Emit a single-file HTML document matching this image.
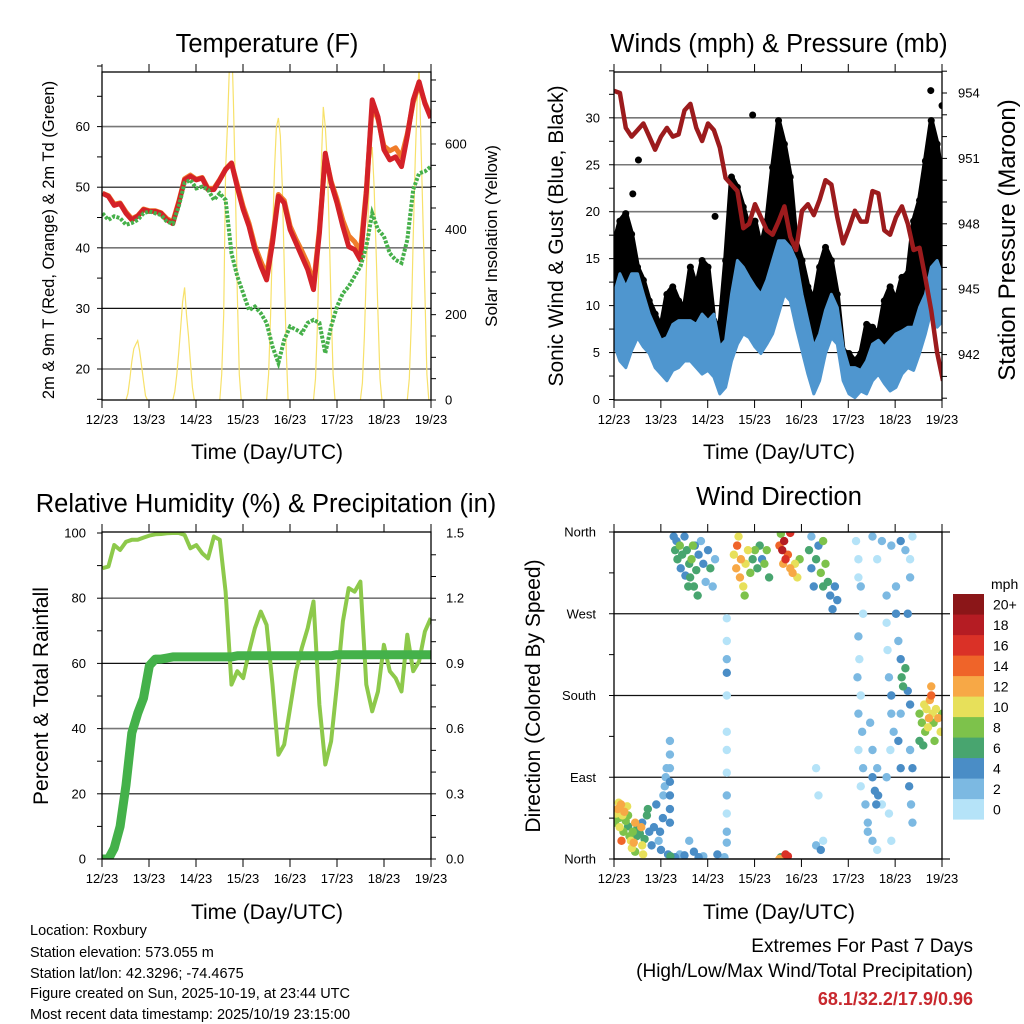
<!DOCTYPE html>
<html><head><meta charset="utf-8">
<style>
html,body{margin:0;padding:0;background:#fff;}
svg{display:block;font-family:"Liberation Sans",sans-serif;}
</style></head>
<body>
<svg id="c" width="1024" height="1024" viewBox="0 0 1024 1024" xmlns="http://www.w3.org/2000/svg">
<defs>
<clipPath id="cp1"><rect x="102" y="72" width="329" height="328"/></clipPath>
<clipPath id="cp2"><rect x="614" y="72" width="328" height="328"/></clipPath>
<clipPath id="cp3"><rect x="102" y="532" width="329" height="327"/></clipPath>
<clipPath id="cp4"><rect x="614" y="532" width="328" height="327"/></clipPath>
</defs>
<g font-size="25.5" text-anchor="middle" fill="#000">
<text x="267" y="52">Temperature (F)</text>
<text x="779" y="52">Winds (mph) &amp; Pressure (mb)</text>
<text x="266" y="512">Relative Humidity (%) &amp; Precipitation (in)</text>
<text x="779" y="505">Wind Direction</text>
</g>
<g font-size="21" text-anchor="middle">
<text x="267" y="459">Time (Day/UTC)</text>
<text x="779" y="459">Time (Day/UTC)</text>
<text x="267" y="919">Time (Day/UTC)</text>
<text x="779" y="919">Time (Day/UTC)</text>
<text transform="translate(54,240) rotate(-90)" font-size="16.5">2m &amp; 9m T (Red, Orange) &amp; 2m Td (Green)</text>
<text transform="translate(497,236) rotate(-90)" font-size="17">Solar Insolation (Yellow)</text>
<text transform="translate(563,236) rotate(-90)" font-size="21">Sonic Wind &amp; Gust (Blue, Black)</text>
<text transform="translate(1015,240) rotate(-90)" font-size="24">Station Pressure (Maroon)</text>
<text transform="translate(48,696) rotate(-90)" font-size="21">Percent &amp; Total Rainfall</text>
<text transform="translate(540,696) rotate(-90)" font-size="21">Direction (Colored By Speed)</text>
</g>
<g font-size="14.5">
<text x="30" y="935">Location: Roxbury</text>
<text x="30" y="957">Station elevation: 573.055 m</text>
<text x="30" y="978">Station lat/lon: 42.3296; -74.4675</text>
<text x="30" y="998">Figure created on Sun, 2025-10-19, at 23:44 UTC</text>
<text x="30" y="1019">Most recent data timestamp: 2025/10/19 23:15:00</text>
</g>
<g font-size="19" text-anchor="end">
<text x="973" y="952">Extremes For Past 7 Days</text>
<text x="973" y="977">(High/Low/Max Wind/Total Precipitation)</text>
<text x="973" y="1005" fill="#c8282e" font-weight="bold" font-size="18">68.1/32.2/17.9/0.96</text>
</g>
<g id="g"></g>
</svg>
<script>
// ---------- data ----------
const dayLabels = ["12/23","13/23","14/23","15/23","16/23","17/23","18/23","19/23"];
const tempTicks = [20,30,40,50,60];
const solarTicks = [0,200,400,600];
const windTicks = [0,5,10,15,20,25,30];
const pressTicks = [942,945,948,951,954];
const rhTicks = [0,20,40,60,80,100];
const precipTicks = ["0.0","0.3","0.6","0.9","1.2","1.5"];
const dirLabels = ["North","East","South","West","North"];
const speedBins = ["0","2","4","6","8","10","12","14","16","18","20+"];
// 3-hourly series from day 0 (12/23 00Z) to day 7
const tempRed = [49,48.5,47,47.3,45.7,44.6,45.2,46.3,46,46,45.7,44.6,44,47.4,51.2,51.8,51.2,51.5,49.6,49.6,51.2,52.9,54,50,46.3,43.5,39.7,37,34.7,40.8,48.5,47.4,43,40.8,38.6,36.4,33.1,42.4,55.6,50.7,47.4,43.5,40.2,39.7,38,49,64.4,61.6,56.2,54.5,55,53.4,58.4,64.4,67.4,63.8,61.4];
const tempOrange = [49,48.6,47.2,47.4,45.9,44.8,45.3,46.4,46.1,46.1,45.8,44.8,44.3,47.6,51.4,52,51.3,51.6,49.8,49.8,51.3,53,54,50.4,46.8,44,40.3,37.8,35.5,41.6,48.8,47.8,43.6,41.4,39.5,37.4,34,43,55.3,51,48,44.5,42,41,39.4,49.5,63.5,61.2,56.8,56,56.5,55,58.8,64,67,64,61.6];
const dewGreen = [45.7,44.6,45.2,44.9,43.8,44.1,44.6,45.7,46,45.7,45.4,44.3,44,46.8,50.7,51.2,49.8,50.1,49.6,47.9,49,47.9,39.1,35.3,32.5,29.7,30.3,29.2,27.6,23.7,21,24.8,27,26.5,25.9,27.6,28.1,27.6,22.6,27,30.3,32.5,33.6,35.3,36.9,40.2,45.7,43,41.9,39.1,38,37.5,41.3,49.6,52.3,52.6,53.4];
const solarHours = [12,13,14,15,16,17,18,19,20,21,22,23];
const solarDay0 = [0,15,50,90,120,130,139,115,80,45,10,0];
const solarDay1 = [0,20,60,110,170,230,264,200,150,90,30,0];
const solarDay2 = [0,60,200,540,650,790,860,700,500,250,60,0];
const solarDay3 = [0,60,200,380,540,640,661,620,500,320,120,0];
const solarDay4 = [0,50,180,380,560,687,640,560,400,220,60,0];
const solarDay5 = [0,40,150,300,450,560,593,500,350,200,50,0];
const solarDay6 = [0,50,180,380,560,700,780,600,420,250,60,0];
const pressure = [954.1,954,952.4,952,952.3,952.6,952,951.4,952,952.4,952,952.1,953.2,953.5,952.4,951.8,952.6,952.3,951.5,950.1,949.8,949.5,947.8,948,948.9,948.3,947.7,947.5,948.1,948.8,947.4,946.8,948.6,948.9,948.4,949.1,950,949.8,948.3,947.1,947.8,948.6,948.1,948.1,949.5,949.4,947.7,947.5,948.3,948.8,948,946.8,946.9,945.5,944,942.1,940.8];
const windLo = [5.9,4.1,3.4,5.2,6.6,5.6,4.9,3.4,2.7,2,3.1,3.4,4.1,4.1,3.4,2.7,3.1,2.4,0.6,1.3,4.1,5.9,7,6.6,5.6,4.9,5.9,7,9.1,11.2,10.5,7.7,5.2,2.7,0.6,2,4.9,6.6,5.9,2,0.6,0.2,0.9,0.6,2,2.7,1.7,0.9,1.3,2.7,3.4,3.1,4.9,7,9.5,7.7,8.4];
const windHi = [11.2,13.4,12,13.4,13.4,11.2,9.1,7.7,6.3,6.6,8,8.4,8.4,8.4,8,9.1,8.4,9.1,5.6,6.3,11.2,14.8,14.1,13,12,11.2,12.7,14.8,16.9,16.9,16.2,14.8,11.2,8.4,5.6,7,9.5,11.2,9.8,5.6,3.4,3.4,3.1,4.1,5.9,6.3,5.6,6.3,7,7.3,7.7,7.7,9.8,11.2,14.1,14.8,13];
const gustHi = [16.6,19,19.8,17.6,14.1,12.7,10.5,9.1,7.7,11.2,12,10.5,9.8,14.1,12,14.8,14.1,8.4,7.7,14.8,23.7,22.6,20.5,18.3,19,16.2,19,24.7,29.7,27.2,23.7,16.9,14.8,12,10.5,14.1,16.2,14.8,11.2,5.2,4.9,4.1,4.9,8,7.7,7,10.5,12,10.5,13,13.4,19,21.2,25.4,29.7,27.2,22.6];
const gustOutlierDays = [0.52,2.95,6.74,6.98,0.4,2.15];
const gustOutlierVals = [25.5,30.3,32.9,31.3,21.9,19.5];
const rh = [89.2,89.7,96.3,94.8,97.3,97.9,97.9,98.6,99.2,99.6,99.7,99.9,100,100,99.4,95.3,96.3,93.8,92.2,98.9,97.9,82,53.5,57.6,55.5,63.7,70.8,75.9,71.8,53.5,32,35.1,46.3,57.6,64.7,70.8,79,47.3,29,36.1,53.5,72.9,83.1,82,85.1,53.5,45.3,51.4,65.7,57.6,55.5,51.4,68.8,57.6,60.6,69.8,73.9];
const precip = [0,0,0.05,0.15,0.34,0.58,0.67,0.74,0.89,0.92,0.92,0.925,0.93,0.93,0.93,0.93,0.93,0.93,0.93,0.93,0.93,0.93,0.93,0.935,0.935,0.935,0.935,0.935,0.935,0.935,0.935,0.935,0.935,0.935,0.935,0.935,0.935,0.935,0.935,0.935,0.94,0.94,0.94,0.94,0.94,0.94,0.94,0.94,0.94,0.94,0.94,0.94,0.94,0.94,0.94,0.94,0.94];
// wind direction observations: [day, direction deg, speed mph]
const dirObs = [[0.02,40,8],[0.05,50,10],[0.08,55,12],[0.1,45,9],[0.12,35,11],[0.15,60,12],[0.18,48,10],[0.2,30,8],[0.22,52,13],[0.25,42,9],[0.28,58,11],[0.3,36,7],[0.33,25,9],[0.36,20,11],[0.38,12,10],[0.4,30,8],[0.42,18,12],[0.45,8,9],[0.48,25,7],[0.5,35,6],[0.55,28,6],[0.6,40,5],[0.65,22,6],[0.7,48,7],[0.72,55,6],[0.75,30,4],[0.8,15,5],[0.85,35,4],[0.9,60,4],[0.95,20,3],[1.0,10,4],[1.05,70,3],[1.08,80,3],[1.1,90,2],[1.12,100,3],[1.04,45,5],[0.98,30,5],[1.15,5,5],[1.2,3,6],[1.3,2,4],[1.4,5,3],[1.5,4,4],[1.6,20,3],[1.7,8,4],[0.1,62,10],[0.16,20,14],[0.45,40,12],[0.3,48,9],[0.6,15,11],[0.62,5,10],[0.58,35,12],
[1.19,130,3],[1.19,115,3],[1.19,100,3],[1.19,85,4],[1.19,70,4],[1.19,55,5],[1.19,40,4],
[1.27,355,5],[1.3,340,7],[1.33,350,4],[1.35,330,6],[1.4,345,8],[1.42,320,5],[1.45,335,7],[1.5,355,4],[1.55,340,6],[1.6,325,7],[1.62,310,6],[1.65,330,8],[1.7,300,7],[1.72,345,5],[1.75,318,6],[1.8,335,4],[1.85,350,3],[1.9,325,5],[1.95,305,3],[2.0,340,4],[2.05,320,6],[2.1,300,3],[2.15,330,2],[1.78,290,6],[1.68,345,9],[1.52,312,4],[1.58,300,7],
[2.4,265,1],[2.4,240,1],[2.4,220,3],[2.4,205,4],[2.4,180,1],[2.4,140,1],[2.4,120,1],[2.4,95,1],[2.4,70,2],[2.4,50,1],[2.4,30,3],[2.4,18,3],
[2.55,335,10],[2.6,320,12],[2.62,345,14],[2.68,310,12],[2.7,330,13],[2.75,300,10],[2.8,325,11],[2.85,340,10],[2.9,315,8],[2.95,330,7],[3.0,340,8],[3.05,320,6],[3.1,345,7],[3.15,330,5],[3.2,325,8],[3.25,340,9],[3.3,310,6],[2.65,355,10],[2.78,290,9],
[3.52,345,15],[3.58,340,18],[3.62,350,19],[3.65,330,16],[3.7,335,14],[3.75,320,13],[3.8,315,12],[3.85,325,11],[3.9,310,10],[3.95,330,8],[3.6,325,12],[3.55,358,8],[3.75,359,16],
[4.15,340,6],[4.2,320,5],[4.25,300,4],[4.3,330,7],[4.35,345,5],[4.4,315,8],[4.45,300,6],[4.5,325,9],[4.55,305,7],[4.6,290,5],[4.65,275,4],[4.7,300,4],[4.75,285,5],[4.2,355,3],[4.45,350,8],
[5.15,350,1],[5.2,330,1],[5.25,300,2],[5.3,270,1],[5.2,245,2],[5.22,220,1],[5.18,200,2],[5.25,180,1],[5.2,160,2],[5.28,140,2],[5.2,120,1],[5.3,100,3],[5.25,80,1],[5.35,60,2],[5.4,40,3],[5.5,90,4],[5.55,75,4],[5.6,100,3],[5.62,70,4],[5.58,60,5],[5.5,120,2],[5.45,150,2],[5.4,30,3],[5.5,20,2],[5.6,10,1],[5.7,60,1],[5.8,290,2],[5.8,260,1],[5.82,230,1],[5.85,200,2],[5.9,160,3],[5.95,140,3],[5.9,180,4],[5.88,120,1],[5.8,90,2],[5.85,50,1],[5.9,20,1],[6.0,270,4],[6.05,240,3],[6.1,220,4],[6.12,200,6],[6.15,190,7],[6.1,160,3],[6.05,130,4],[6.1,100,4],[6.2,210,7],[6.25,185,5],[6.3,170,4],[6.3,120,3],[6.35,100,4],[6.28,80,4],[6.32,60,2],[6.35,40,2],[6.2,340,3],[6.3,310,2],[5.9,345,2],[5.7,350,2],[6.25,270,4],[6.0,300,3],
[6.5,160,8],[6.55,150,9],[6.6,170,10],[6.62,140,8],[6.65,165,11],[6.7,155,12],[6.72,175,13],[6.75,180,14],[6.78,160,10],[6.8,150,9],[6.85,165,11],[6.9,155,12],[6.95,140,10],[6.98,160,8],[6.58,125,7],[6.75,190,12],[6.82,130,9],[6.68,145,10],[6.5,130,6],
[3.55,2,7],[3.65,5,16],[3.7,3,17],[3.52,0,12],[4.3,15,3],[4.4,10,4],[4.45,20,1],[4.35,70,1],[4.3,100,1],[1.8,2,4],[1.9,3,3],[2.2,5,4],[2.35,2,3],[5.5,355,3],[5.6,330,1],[6.1,350,4],[6.3,330,1],[6.35,355,1],[5.2,310,1]];

// ---------- helpers ----------
const NS="http://www.w3.org/2000/svg";
const G=document.getElementById('g');
function mk(tag,attrs,parent){const e=document.createElementNS(NS,tag);for(const k in attrs)e.setAttribute(k,attrs[k]);(parent||G).appendChild(e);return e;}
const speedColors=["#b5e3f8","#7cb9e2","#4a8dc6","#48a56f","#7dc24b","#e7e05a","#f7a846","#ef6429","#da3127","#b51c23","#8b1618"];
const STEP=0.125;
const X1=d=>102.5+d*46.9, X2=d=>614+d*47;
const yT=t=>369-(t-20)*6.06, yS=w=>400-w*0.4267;
const yW=w=>399.5-w*9.39, yP=p=>93+(954-p)*21.8;
const yRH=r=>859-r*3.26, yPr=p=>859-p*217.3;
const yD=d=>859-d/360*327;

function frame(x0,y0,x1,y1,name){
  const r=mk('rect',{x:x0,y:y0,width:x1-x0,height:y1-y0,fill:'none',stroke:'#000','stroke-width':1.3});
  
  
  for(let i=0;i<8;i++){const xx=x0+(x1-x0)*i/7;
    const t1=mk('line',{x1:xx,x2:xx,y1:y0-8,y2:y0,stroke:'#000'});
    
    
    const t2=mk('line',{x1:xx,x2:xx,y1:y1,y2:y1+8,stroke:'#000'});
    
    
    const tl=mk('text',{x:xx,y:y1+24,'font-size':13,'text-anchor':'middle'});
    tl.textContent=dayLabels[i];
    
    
  }
}
function hgrid(y,x0,x1,dark){const l=mk('line',{x1:x0,x2:x1,y1:y,y2:y,stroke:dark?'#111':'#777','stroke-width':dark?1.2:1.6});
  
  }
function ylab(x,y,txt,anchor){const t=mk('text',{x:x,y:y+4.5,'font-size':13,'text-anchor':anchor});t.textContent=txt;
  
  }
function ytick(x,y,len){const l=mk('line',{x1:x,x2:x+len,y1:y,y2:y,stroke:'#000'});
  
  }
function pathFrom(arr,xf,yf){return arr.map((v,i)=>(i?'L':'M')+xf(i*STEP).toFixed(1)+','+yf(v).toFixed(1)).join('');}

// ---------- Panel 1: temperature ----------
tempTicks.forEach((t,i)=>{hgrid(yT(t),102,431,i%2==1);ylab(90,yT(t),t,'end');});
for(let t=15;t<=70;t+=5)ytick(97,yT(t),5);
solarTicks.forEach(w=>ylab(445,yS(w),w,'start'));
for(let w=0;w<=750;w+=50)ytick(431,yS(w),5);
const c1=mk('g',{'clip-path':'url(#cp1)'});


[solarDay0,solarDay1,solarDay2,solarDay3,solarDay4,solarDay5,solarDay6].forEach((arr,d)=>{
  const p=mk('path',{d:arr.map((v,i)=>(i?'L':'M')+X1(d+solarHours[i]/24).toFixed(1)+','+yS(v).toFixed(1)).join(''),fill:'none',stroke:'#f7e16a','stroke-width':1.2},c1);
  
  
});
const po=mk('path',{d:pathFrom(tempOrange,X1,yT),fill:'none',stroke:'#f07c2a','stroke-width':5,'stroke-linejoin':'round'},c1);


const pr=mk('path',{d:pathFrom(tempRed,X1,yT),fill:'none',stroke:'#d42128','stroke-width':5,'stroke-linejoin':'round'},c1);


const pg=mk('path',{d:pathFrom(dewGreen,X1,yT),fill:'none',stroke:'#46b04a','stroke-width':4,'stroke-dasharray':'3 1.5'},c1);


frame(102,72,431,400,'temperature-frame');

// ---------- Panel 2: winds ----------
windTicks.forEach(w=>{if(w>0)hgrid(yW(w),614,942,w<=10);ylab(600,yW(w),w,'end');});
for(let w=0;w<=35;w+=2.5)ytick(609,yW(w),5);
pressTicks.forEach(p=>ylab(958,yP(p),p,'start'));
for(let p=940;p<=955;p++)ytick(942,yP(p),5);
const c2=mk('g',{'clip-path':'url(#cp2)'});


let gp='';windLo.forEach((v,i)=>{gp+=(i?'L':'M')+X2(i*STEP).toFixed(1)+','+yW(v+1.5).toFixed(1);});
for(let i=gustHi.length-1;i>=0;i--)gp+='L'+X2(i*STEP).toFixed(1)+','+yW(gustHi[i]).toFixed(1);
const gb=mk('path',{d:gp+'Z',fill:'#000',stroke:'#000','stroke-width':5,'stroke-linejoin':'round'},c2);


gustHi.forEach((v,i)=>{const c=mk('circle',{cx:X2(i*STEP),cy:yW(v),r:3.5,fill:'#000'},c2);
  
  });
gustOutlierDays.forEach((d,i)=>{const c=mk('circle',{cx:X2(d),cy:yW(gustOutlierVals[i]),r:3.5,fill:'#000'},c2);
  
  });
let wp='';windLo.forEach((v,i)=>{wp+=(i?'L':'M')+X2(i*STEP).toFixed(1)+','+yW(v).toFixed(1);});
for(let i=windHi.length-1;i>=0;i--)wp+='L'+X2(i*STEP).toFixed(1)+','+yW(windHi[i]).toFixed(1);
const wb=mk('path',{d:wp+'Z',fill:'#4f96cf',stroke:'#4f96cf','stroke-width':3,'stroke-linejoin':'round'},c2);


const pp=mk('path',{d:pathFrom(pressure,X2,yP),fill:'none',stroke:'#9c1b1d','stroke-width':4.5,'stroke-linejoin':'round'},c2);


frame(614,72,942,400,'winds-frame');

// ---------- Panel 3: RH & precip ----------
rhTicks.forEach(r=>{if(r>0&&r<100)hgrid(yRH(r),102,431,r%40==20);ylab(86,yRH(r),r,'end');});
for(let r=0;r<=100;r+=10)ytick(97,yRH(r),5);
precipTicks.forEach(p=>ylab(446,yPr(+p),p,'start'));
for(let p=0;p<=1.5;p+=0.1)ytick(431,yPr(p),5);
const c3=mk('g',{'clip-path':'url(#cp3)'});


const prh=mk('path',{d:pathFrom(rh,X1,yRH),fill:'none',stroke:'#8dc94b','stroke-width':4,'stroke-linejoin':'round'},c3);


const ppr=mk('path',{d:pathFrom(precip,X1,yPr),fill:'none',stroke:'#44b14a','stroke-width':9,'stroke-linejoin':'round','stroke-linecap':'round'},c3);


frame(102,532,431,859,'rh-frame');

// ---------- Panel 4: wind direction ----------
[90,180,270].forEach(d=>hgrid(yD(d),614,950,true));
hgrid(yD(360),614,950,true);hgrid(yD(0),614,950,true);
dirLabels.forEach((t,i)=>ylab(596,yD(i*90),t,'end'));
for(let d=0;d<=360;d+=45)ytick(609,yD(d),5);
const c4=mk('g',{'clip-path':'url(#cp4)'});


dirObs.slice().sort((a,b)=>a[2]-b[2]).forEach(o=>{
  const ci=Math.min(10,Math.floor(o[2]/2));
  const c=mk('circle',{cx:X2(o[0]),cy:yD(o[1]),r:4.2,fill:speedColors[ci]},c4);
  
  
});
frame(614,532,942,859,'wind-direction-frame');
// colorbar
const mphT=mk('text',{x:991,y:589,'font-size':14});mphT.textContent='mph';


speedBins.forEach((lab,i)=>{
  const j=10-i; const y=594+j*20.5;
  const r=mk('rect',{x:953,y:y,width:31,height:20.6,fill:speedColors[i]});
  
  
  const t=mk('text',{x:993,y:y+15.5,'font-size':14});t.textContent=lab;
  
  
});
</script>
</body></html>
